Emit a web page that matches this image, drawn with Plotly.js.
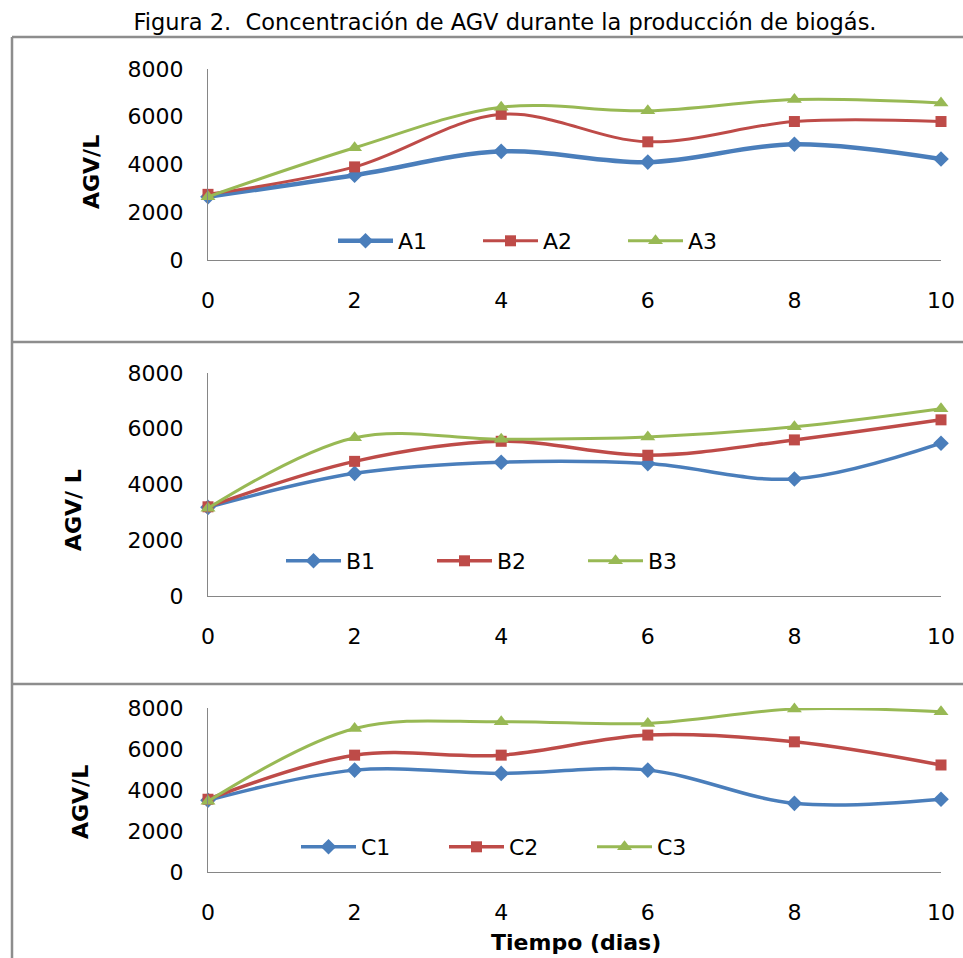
<!DOCTYPE html>
<html>
<head>
<meta charset="utf-8">
<script src="https://cdn.plot.ly/plotly-3.0.1.min.js"></script>
<style>
html,body{margin:0;padding:0;background:#fff;}
#chart{width:963px;height:958px;}
</style>
</head>
<body>
<div id="chart"></div>
<script>
// ---- data ----
var dias = [0, 2, 4, 6, 8, 10];
var A1 = [2650, 3550, 4550, 4100, 4850, 4230];
var A2 = [2750, 3900, 6100, 4950, 5800, 5800];
var A3 = [2650, 4700, 6400, 6250, 6720, 6580];
var B1 = [3180, 4400, 4800, 4750, 4200, 5480];
var B2 = [3200, 4830, 5550, 5050, 5600, 6320];
var B3 = [3150, 5680, 5620, 5700, 6070, 6720];
var C1 = [3500, 4970, 4810, 4970, 3350, 3550];
var C2 = [3550, 5700, 5700, 6680, 6350, 5220];
var C3 = [3450, 7000, 7330, 7250, 7950, 7820];
var yTicks = [0, 2000, 4000, 6000, 8000];
var xTicks = [0, 2, 4, 6, 8, 10];
var figTitle = 'Figura 2.  Concentración de AGV durante la producción de biogás.';
var yTitles = ['AGV/L', 'AGV/ L', 'AGV/L'];
var xTitle = 'Tiempo (dias)';

var W = 963, H = 958;
var FONT = 'DejaVu Sans, Liberation Sans, sans-serif';
var FS = 22;
var colors = ['#4A7EBB', '#BE4B48', '#98B954'];
var symbols = ['diamond', 'square', 'triangle-up'];
var msize = [12, 11, 13];

function px(x) { return x / W; }
function py(y) { return 1 - y / H; }

var panels = [
  {names: ['A1','A2','A3'], data: [A1, A2, A3], ax: '', top: 69, bot: 260, leg: 'legend', legX: 333, legY: 241, ew: 75, widths: [4.5, 3, 3]},
  {names: ['B1','B2','B3'], data: [B1, B2, B3], ax: '2', top: 373, bot: 596, leg: 'legend2', legX: 281, legY: 561, ew: 81, widths: [3.5, 3.5, 3]},
  {names: ['C1','C2','C3'], data: [C1, C2, C3], ax: '3', top: 708, bot: 872, leg: 'legend3', legX: 296, legY: 847, ew: 78, widths: [3.5, 3.5, 3]}
];

var traces = [];
var layout = {
  width: W, height: H,
  margin: {l: 0, r: 0, t: 0, b: 0},
  paper_bgcolor: '#ffffff',
  plot_bgcolor: 'rgba(0,0,0,0)',
  font: {family: FONT, size: FS, color: '#000'},
  showlegend: true,
  title: {text: figTitle, font: {family: FONT, size: 22.5, color: '#000'}, x: px(505), xanchor: 'center', y: py(22), yanchor: 'middle', yref: 'paper', xref: 'paper'},
  annotations: [],
  shapes: []
};

panels.forEach(function (p, pi) {
  var xa = 'x' + p.ax, ya = 'y' + p.ax;
  for (var i = 0; i < 3; i++) {
    traces.push({
      x: dias, y: p.data[i], name: p.names[i], type: 'scatter', mode: 'lines+markers',
      xaxis: xa, yaxis: ya, legend: p.leg, cliponaxis: false,
      line: {color: colors[i], width: p.widths[i], shape: 'spline', smoothing: 1},
      marker: {symbol: symbols[i], size: msize[i], color: colors[i]}
    });
  }
  var xkey = 'xaxis' + p.ax, ykey = 'yaxis' + p.ax;
  layout[xkey] = {
    domain: [px(208), px(941)], anchor: ya, range: [0, 10], fixedrange: true,
    tickvals: xTicks, ticks: '', showgrid: false, zeroline: false,
    showline: true, linecolor: '#868686', linewidth: 1,
    tickfont: {family: FONT, size: FS, color: '#000'}, ticklabelstandoff: 21
  };
  layout[ykey] = {
    domain: [py(p.bot), py(p.top)], anchor: xa, range: [0, 8000], fixedrange: true,
    tickvals: yTicks, tickformat: 'd', ticks: '', showgrid: false, zeroline: false,
    showline: true, linecolor: '#868686', linewidth: 1,
    tickfont: {family: FONT, size: FS, color: '#000'}, ticklabelstandoff: 19
  };
  layout[p.leg] = {
    orientation: 'h', x: px(p.legX), xanchor: 'left', y: py(p.legY), yanchor: 'middle',
    bgcolor: 'rgba(0,0,0,0)', borderwidth: 0, itemwidth: 55,
    entrywidth: p.ew, entrywidthmode: 'pixels',
    font: {family: FONT, size: FS, color: '#000'}, itemclick: false, itemdoubleclick: false
  };
});

// axis titles
var yTitlePos = [{x: 91, y: 172}, {x: 74, y: 510}, {x: 80, y: 802}];
yTitlePos.forEach(function (q, i) {
  layout.annotations.push({
    text: '<b>' + yTitles[i] + '</b>', xref: 'paper', yref: 'paper', x: px(q.x), y: py(q.y),
    xanchor: 'center', yanchor: 'middle', textangle: -90, showarrow: false,
    font: {family: FONT, size: FS, color: '#000'}
  });
});
layout.annotations.push({
  text: '<b>' + xTitle + '</b>', xref: 'paper', yref: 'paper', x: px(576), y: py(942),
  xanchor: 'center', yanchor: 'middle', showarrow: false,
  font: {family: FONT, size: FS, color: '#000'}
});

// panel borders
var bc = '#8d8d8d';
[[12, 37, 963, 37], [12, 342, 963, 342], [12, 684, 963, 684], [12, 37, 12, 958]].forEach(function (s) {
  layout.shapes.push({type: 'line', xref: 'paper', yref: 'paper', x0: px(s[0]), y0: py(s[1]), x1: px(s[2]), y1: py(s[3]), line: {color: bc, width: 2.5}});
});

Plotly.newPlot('chart', traces, layout, {displayModeBar: false, staticPlot: true});
</script>
</body>
</html>
